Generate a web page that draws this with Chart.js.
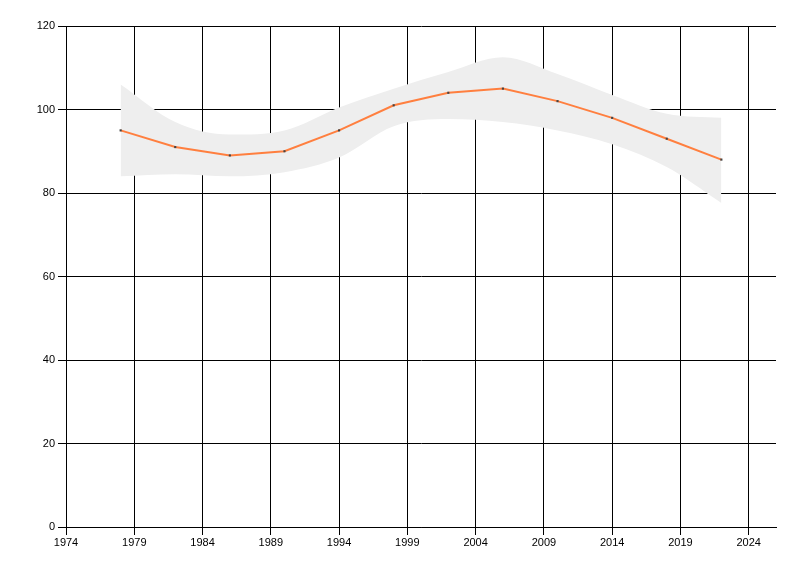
<!DOCTYPE html>
<html>
<head>
<meta charset="utf-8">
<script src="https://cdn.jsdelivr.net/npm/chart.js@4/dist/chart.umd.min.js"></script>
<style>
  html, body { margin: 0; padding: 0; background: #fff; }
  canvas { display: block; }
</style>
</head>
<body>
<canvas id="chart" width="800" height="576"></canvas>
<script>
// chart values
const years = [1978, 1982, 1986, 1990, 1994, 1998, 2002, 2006, 2010, 2014, 2018, 2022];
const values = [95, 91, 89, 90, 95, 101, 104, 105, 102, 98, 93, 88];
const upperBand = [106, 97, 94, 95, 100.5, 105, 109, 112.5, 108.5, 103.5, 99, 98];
const lowerBand = [84, 84.5, 84, 85, 88.5, 96, 97.7, 97, 95, 91.7, 86.2, 77.6];
const xTicks = [1974, 1979, 1984, 1989, 1994, 1999, 2004, 2009, 2014, 2019, 2024];
const yTicks = [0, 20, 40, 60, 80, 100, 120];

const toPoints = arr => years.map((yr, i) => ({ x: yr, y: arr[i] }));

const tickFont = { family: "'Liberation Sans', Arial, sans-serif", size: 11 };

new Chart(document.getElementById("chart").getContext("2d"), {
  type: "line",
  data: {
    datasets: [
      {
        data: toPoints(values),
        borderColor: "rgb(255, 127, 63)",
        borderWidth: 2,
        pointStyle: "rect",
        pointRadius: 1.5,
        pointBackgroundColor: "#444",
        pointBorderColor: "#444",
        pointBorderWidth: 0,
        tension: 0,
        fill: false
      },
      {
        data: toPoints(lowerBand),
        borderWidth: 0,
        borderColor: "rgba(0,0,0,0)",
        pointRadius: 0,
        cubicInterpolationMode: "monotone",
        fill: false
      },
      {
        data: toPoints(upperBand),
        borderWidth: 0,
        borderColor: "rgba(0,0,0,0)",
        backgroundColor: "#eeeeee",
        pointRadius: 0,
        cubicInterpolationMode: "monotone",
        fill: "-1"
      }
    ]
  },
  options: {
    responsive: false,
    animation: false,
    layout: { padding: { top: 26, right: 24, left: 0, bottom: 0 } },
    plugins: { legend: { display: false }, tooltip: { enabled: false } },
    scales: {
      x: {
        type: "linear",
        min: 1974,
        max: 2026,
        afterBuildTicks: scale => { scale.ticks = xTicks.map(v => ({ value: v })); },
        afterFit: scale => { scale.height = 49; },
        grid: { color: "#000", lineWidth: 1, tickLength: 8, drawTicks: true },
        border: { display: true, color: "#000", width: 1 },
        ticks: {
          color: "#000", font: tickFont, padding: 1, maxRotation: 0, autoSkip: false,
          callback: v => String(v)
        }
      },
      y: {
        min: 0,
        max: 120,
        afterBuildTicks: scale => { scale.ticks = yTicks.map(v => ({ value: v })); },
        afterFit: scale => { scale.width = 66; },
        grid: { color: "#000", lineWidth: 1, tickLength: 8, drawTicks: true },
        border: { display: true, color: "#000", width: 1 },
        ticks: { color: "#000", font: tickFont, padding: 3, callback: v => String(v) }
      }
    }
  }
});
</script>
</body>
</html>
